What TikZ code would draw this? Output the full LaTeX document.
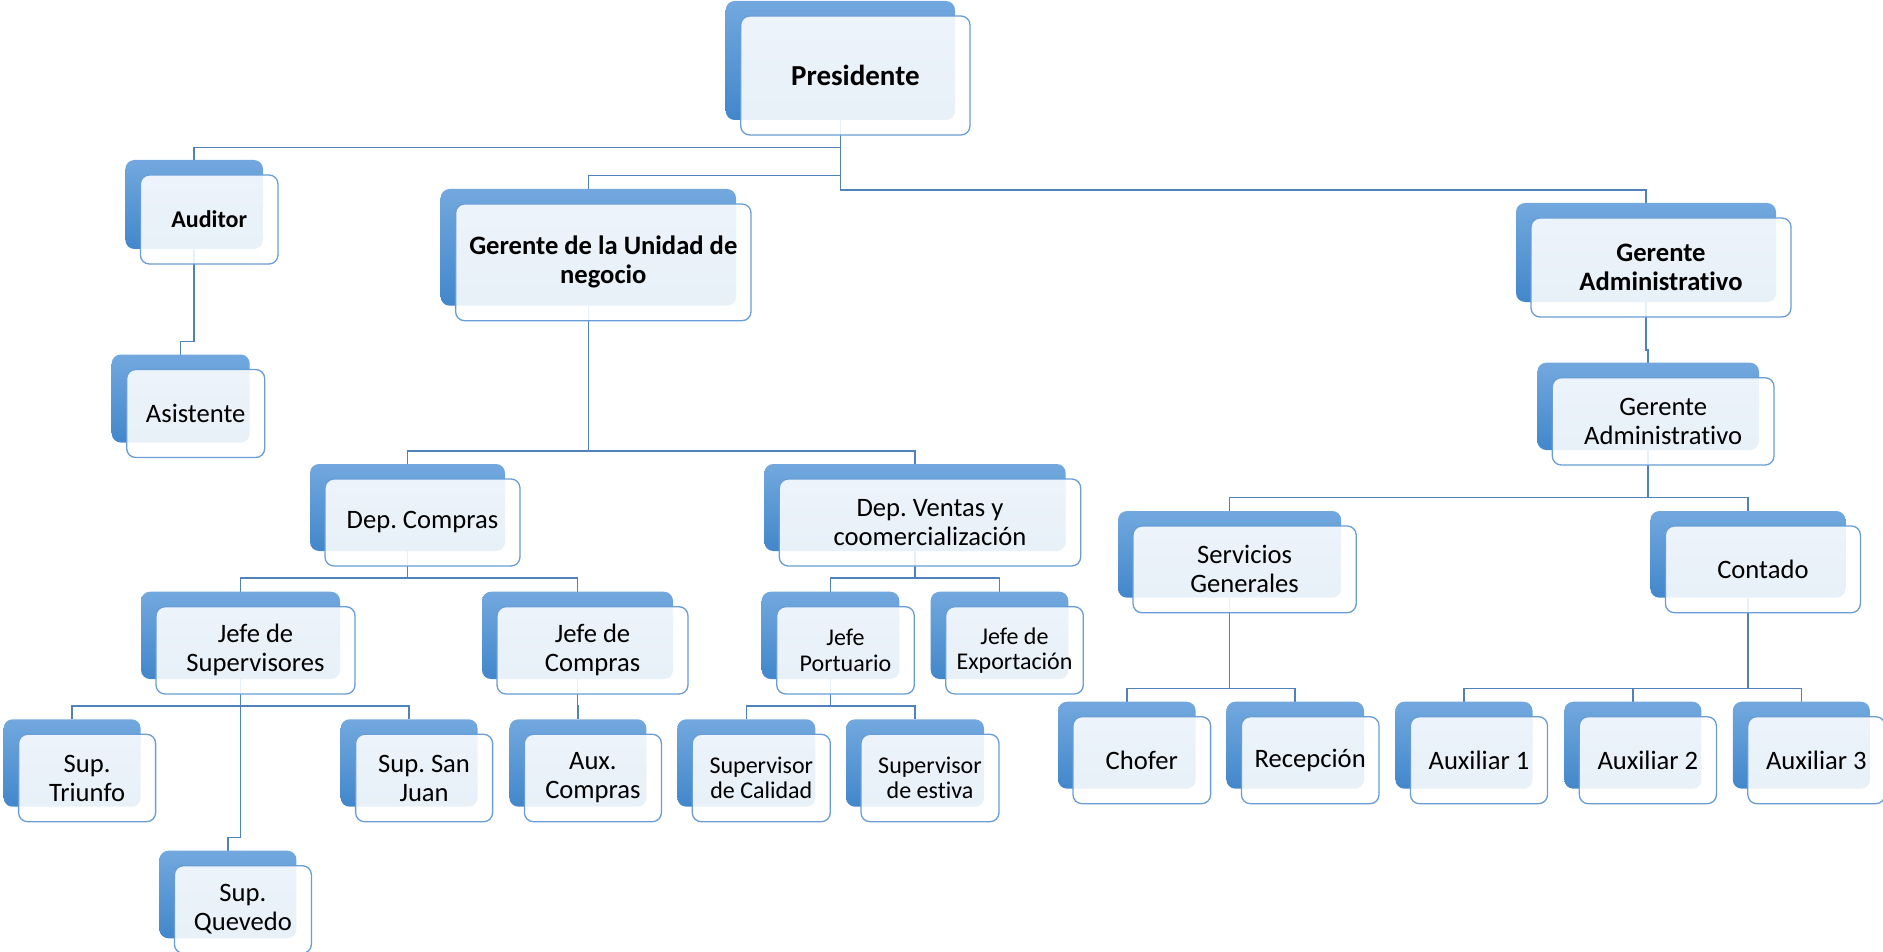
\documentclass[tikz,border=0pt]{standalone}
\usepackage{fontspec}
\setmainfont{Carlito}[Ligatures=NoCommon]
\pgfdeclarelayer{bg}
\pgfsetlayers{bg,main}
\definecolor{bTop}{RGB}{114,168,222}
\definecolor{bBot}{RGB}{66,135,203}
\definecolor{fLine}{RGB}{104,157,214}
\definecolor{cLine}{RGB}{79,129,189}
\newcommand\ftP{\fontsize{29}{32}\selectfont\bfseries}
\newcommand\ftB{\fontsize{26.6}{29}\selectfont\bfseries}
\newcommand\ftAud{\fontsize{24}{27}\selectfont\bfseries}
\newcommand\ftA{\fontsize{26.6}{29}\selectfont}
\newcommand\ftS{\fontsize{24}{25.5}\selectfont}
\frenchspacing
\tikzset{
 backbox/.style={rectangle, rounded corners=9pt, top color=bTop, bottom color=bBot, draw=none, anchor=north west, inner sep=0pt, outer sep=0pt},
 frontbox/.style={rectangle, rounded corners=9pt, fill=white, fill opacity=0.88, text opacity=1, draw=fLine, line width=1.3pt, anchor=north west, inner sep=0pt, outer sep=0pt, align=center, text=black},
 conn/.style={draw=cLine, line width=1.5pt},
}
% name, x, y, w, h, font, text
\newcommand\orgbox[7]{%
  \node[backbox, minimum width=#4pt, minimum height=#5pt] (#1) at (#2,#3) {};
  \node[frontbox, minimum width=#4pt, minimum height=#5pt, font=#6] (#1-f) at ([xshift=15pt,yshift=-15pt]#1.north west) {#7};
}
\newcommand\busline[3]{\draw[conn] (#1.south) -- (#1.south |- 0,#2) -| (#3.north);}
\begin{document}
\frenchspacing
\begin{tikzpicture}[x=1pt,y=-1pt]
\useasboundingbox (0,0) rectangle (1883,952);
\orgbox{pres}{725.7}{1}{229.3}{119}{\ftP}{Presidente}
\orgbox{aud}{125.4}{160}{137.6}{89}{\ftAud}{Auditor}
\orgbox{asis}{111.7}{354.5}{138}{88}{\ftA}{Asistente}
\orgbox{gun}{440.6}{189}{295.4}{116.7}{\ftB}{Gerente de la Unidad de\\negocio}
\orgbox{gad}{1516}{203}{260}{99}{\ftB}{Gerente\\Administrativo}
\orgbox{gad2}{1537.3}{362.7}{221.7}{87.3}{\ftA}{Gerente\\Administrativo}
\orgbox{dcom}{310}{464}{195}{87}{\ftA}{Dep. Compras}
\orgbox{dven}{764.3}{464}{301.4}{87}{\ftA}{Dep. Ventas y\\coomercialización}
\orgbox{jsup}{141}{591.7}{199}{87.3}{\ftA}{Jefe de\\Supervisores}
\orgbox{jcom}{482}{591.7}{191}{87.3}{\ftA}{Jefe de\\Compras}
\orgbox{jpor}{761.7}{591.7}{137.6}{87.3}{\ftS}{Jefe\\Portuario}
\orgbox{jexp}{930.7}{591.7}{137.6}{87.3}{\ftS}{Jefe de\\Exportación}
\orgbox{striu}{3.6}{719.3}{137}{87.4}{\ftA}{Sup.\\Triunfo}
\orgbox{ssj}{340.6}{719.3}{137}{87.4}{\ftA}{Sup. San\\Juan}
\orgbox{auxc}{509.4}{719.3}{137}{87.4}{\ftA}{Aux.\\Compras}
\orgbox{scal}{677.3}{719.3}{138}{87.4}{\ftS}{Supervisor\\de Calidad}
\orgbox{sest}{846}{719.3}{138}{87.4}{\ftS}{Supervisor\\de estiva}
\orgbox{sque}{159.4}{850.7}{137}{87.6}{\ftA}{Sup.\\Quevedo}
\orgbox{serv}{1118}{511}{223.2}{86.7}{\ftA}{Servicios\\Generales}
\orgbox{cont}{1650.4}{511}{195}{86.7}{\ftA}{Contado}
\orgbox{chof}{1058}{701.7}{137.6}{87}{\ftA}{Chofer}
\orgbox{rece}{1226.4}{701.7}{137.6}{87}{\ftA}{Recepción}
\orgbox{auxa}{1395.4}{701.7}{137.1}{87}{\ftA}{Auxiliar 1}
\orgbox{auxb}{1564.3}{701.7}{137.1}{87}{\ftA}{Auxiliar 2}
\orgbox{auxd}{1732.8}{701.7}{137.1}{87}{\ftA}{Auxiliar 3}
\begin{pgfonlayer}{bg}
\busline{pres}{147.3}{aud}
\busline{pres}{175.7}{gun}
\busline{pres}{190}{gad}
\busline{aud}{341.7}{asis}
\busline{gad}{350}{gad2}
\busline{gun}{451}{dcom}
\busline{gun}{451}{dven}
\busline{dcom}{578}{jsup}
\busline{dcom}{578}{jcom}
\busline{dven}{578}{jpor}
\busline{dven}{578}{jexp}
\busline{jsup}{706}{striu}
\busline{jsup}{706}{ssj}
\busline{jsup}{837.7}{sque}
\busline{jcom}{706}{auxc}
\busline{jpor}{706}{scal}
\busline{jpor}{706}{sest}
\busline{gad2}{497.3}{serv}
\busline{gad2}{497.3}{cont}
\busline{serv}{688.3}{chof}
\busline{serv}{688.3}{rece}
\busline{cont}{688.3}{auxa}
\busline{cont}{688.3}{auxb}
\busline{cont}{688.3}{auxd}
\end{pgfonlayer}
\end{tikzpicture}
\end{document}
